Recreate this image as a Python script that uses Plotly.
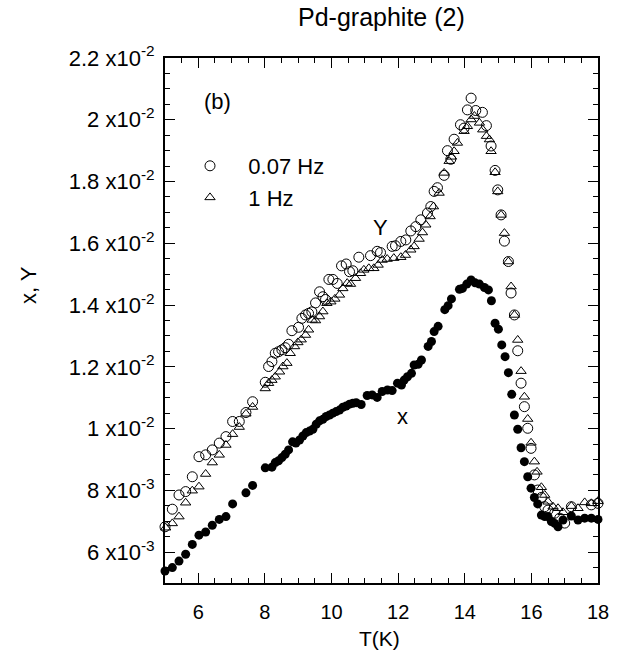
import plotly.graph_objects as go

# ---- data ----
x_T = [5.00, 5.22, 5.42, 5.62, 5.82, 6.02, 6.22, 6.42, 6.63, 6.83, 7.03, 7.43, 7.63,
       8.01, 8.21, 8.31, 8.41, 8.51, 8.61, 8.71, 8.83, 8.93, 9.04, 9.14, 9.24, 9.34,
       9.44, 9.54, 9.64, 9.74, 9.84, 9.94, 10.04, 10.14, 10.24, 10.34, 10.44, 10.54,
       10.64, 10.74, 10.89, 11.07, 11.22, 11.37, 11.52, 11.68, 11.82, 11.98, 12.10,
       12.18, 12.28, 12.40, 12.48, 12.60, 12.70, 12.90, 13.00, 13.08, 13.20, 13.40,
       13.50, 13.60, 13.84, 13.93, 14.06, 14.19, 14.31, 14.44, 14.59, 14.71, 14.80,
       14.91, 15.01, 15.11, 15.21, 15.31, 15.41, 15.49, 15.59, 15.69, 15.79, 15.89,
       15.99, 16.09, 16.19, 16.30, 16.40, 16.50, 16.60, 16.70, 16.80, 16.95, 17.20,
       17.40, 17.60, 17.80, 18.00]
x_val = [0.00539, 0.00550, 0.00571, 0.00593, 0.00625, 0.00655, 0.00665, 0.00687, 0.00706,
         0.00715, 0.00756, 0.00792, 0.00816, 0.00873, 0.00875, 0.00890, 0.00896, 0.00906,
         0.00917, 0.00931, 0.00957, 0.00953, 0.00963, 0.00976, 0.00987, 0.00992, 0.00998,
         0.01014, 0.01025, 0.01030, 0.01039, 0.01044, 0.01050, 0.01055, 0.01060, 0.01069,
         0.01073, 0.01079, 0.01082, 0.01084, 0.01078, 0.01107, 0.01109, 0.01101, 0.01120,
         0.01125, 0.01123, 0.01147, 0.01141, 0.01157, 0.01168, 0.01179, 0.01206, 0.01208,
         0.01222, 0.01266, 0.01282, 0.01314, 0.01331, 0.01385, 0.01398, 0.01420, 0.01451,
         0.01454, 0.01468, 0.01481, 0.01472, 0.01468, 0.01457, 0.01449, 0.01414, 0.01341,
         0.01322, 0.01271, 0.01233, 0.01181, 0.01111, 0.01044, 0.00998, 0.00938, 0.00893,
         0.00844, 0.00807, 0.00777, 0.00756, 0.00720, 0.00715, 0.00715, 0.00699, 0.00693,
         0.00682, 0.00704, 0.00717, 0.00704, 0.00710, 0.00710, 0.00706]

y007_T = [5.00, 5.22, 5.42, 5.62, 5.82, 6.02, 6.22, 6.42, 6.63, 6.83, 7.03, 7.23, 7.43,
          7.63, 8.01, 8.11, 8.21, 8.31, 8.41, 8.51, 8.61, 8.71, 8.81, 9.01, 9.11, 9.22,
          9.31, 9.41, 9.52, 9.64, 9.74, 9.82, 9.92, 10.04, 10.17, 10.30, 10.44, 10.54,
          10.64, 10.82, 11.17, 11.37, 11.47, 11.82, 11.92, 12.08, 12.23, 12.38, 12.53,
          12.68, 12.88, 12.98, 13.08, 13.18, 13.38, 13.48, 13.58, 13.68, 13.87, 13.98,
          14.08, 14.19, 14.33, 14.53, 14.65, 14.79, 14.91, 14.99, 15.09, 15.19, 15.31,
          15.39, 15.49, 15.59, 15.69, 15.79, 15.89, 15.99, 16.09, 16.19, 16.30, 16.40,
          16.50, 16.70, 16.85, 17.00, 17.20, 17.80, 18.00]
y007_val = [0.00682, 0.00739, 0.00785, 0.00796, 0.00844, 0.00909, 0.00915, 0.00931,
            0.00953, 0.00974, 0.01023, 0.01023, 0.01052, 0.01087, 0.01150, 0.01201,
            0.01217, 0.01244, 0.01249, 0.01255, 0.01262, 0.01273, 0.01317, 0.01328,
            0.01357, 0.01368, 0.01373, 0.01378, 0.01407, 0.01443, 0.01427, 0.01418,
            0.01483, 0.01483, 0.01470, 0.01527, 0.01533, 0.01508, 0.01511, 0.01555,
            0.01560, 0.01574, 0.01570, 0.01590, 0.01592, 0.01606, 0.01611, 0.01640,
            0.01654, 0.01676, 0.01698, 0.01719, 0.01768, 0.01780, 0.01820, 0.01900,
            0.01872, 0.01937, 0.01984, 0.01973, 0.02032, 0.02070, 0.02030, 0.02024,
            0.01981, 0.01915, 0.01836, 0.01773, 0.01692, 0.01607, 0.01541, 0.01439,
            0.01368, 0.01252, 0.01147, 0.01071, 0.01001, 0.00936, 0.00850, 0.00801,
            0.00777, 0.00747, 0.00736, 0.00726, 0.00710, 0.00694, 0.00747, 0.00753,
            0.00758]

y1_T = [5.02, 5.22, 5.42, 5.62, 5.82, 6.02, 6.22, 6.42, 6.63, 6.83, 7.03, 7.23, 7.43,
        7.63, 8.01, 8.11, 8.21, 8.31, 8.44, 8.54, 8.66, 8.76, 8.89, 8.99, 9.09, 9.22,
        9.31, 9.42, 9.52, 9.64, 9.74, 9.86, 9.98, 10.10, 10.24, 10.34, 10.47, 10.57,
        10.72, 10.87, 10.97, 11.12, 11.27, 11.40, 11.52, 11.67, 11.87, 12.08, 12.22,
        12.38, 12.48, 12.63, 12.73, 12.83, 12.96, 13.06, 13.23, 13.38, 13.53, 13.60,
        13.68, 13.78, 13.98, 14.08, 14.19, 14.29, 14.44, 14.54, 14.65, 14.74, 14.79,
        14.91, 14.99, 15.09, 15.19, 15.31, 15.39, 15.49, 15.59, 15.69, 15.79, 15.89,
        15.99, 16.09, 16.17, 16.30, 16.40, 16.50, 16.65, 16.80, 16.95, 17.20, 17.40,
        17.60, 17.80, 18.00]
y1_val = [0.00679, 0.00693, 0.00715, 0.00760, 0.00799, 0.00812, 0.00853, 0.00890,
          0.00915, 0.00947, 0.00982, 0.01005, 0.01048, 0.01070, 0.01130, 0.01147,
          0.01157, 0.01168, 0.01184, 0.01201, 0.01212, 0.01244, 0.01266, 0.01279,
          0.01288, 0.01303, 0.01320, 0.01352, 0.01350, 0.01363, 0.01379, 0.01406,
          0.01411, 0.01420, 0.01433, 0.01454, 0.01471, 0.01468, 0.01487, 0.01503,
          0.01514, 0.01519, 0.01519, 0.01530, 0.01546, 0.01549, 0.01552, 0.01555,
          0.01562, 0.01579, 0.01590, 0.01614, 0.01635, 0.01660, 0.01687, 0.01719,
          0.01763, 0.01828, 0.01866, 0.01880, 0.01898, 0.01925, 0.01963, 0.01979,
          0.02001, 0.02012, 0.01990, 0.01968, 0.01947, 0.01936, 0.01898, 0.01830,
          0.01768, 0.01692, 0.01633, 0.01541, 0.01460, 0.01368, 0.01287, 0.01186,
          0.01103, 0.01031, 0.00954, 0.00893, 0.00860, 0.00810, 0.00785, 0.00763,
          0.00747, 0.00742, 0.00729, 0.00749, 0.00742, 0.00761, 0.00758, 0.00765]

y_tickvals = [0.006, 0.008, 0.010, 0.012, 0.014, 0.016, 0.018, 0.020, 0.022]
y_ticktext = ["6 x10<sup>-3</sup>", "8 x10<sup>-3</sup>", "1 x10<sup>-2</sup>",
              "1.2 x10<sup>-2</sup>", "1.4 x10<sup>-2</sup>", "1.6 x10<sup>-2</sup>",
              "1.8 x10<sup>-2</sup>", "2 x10<sup>-2</sup>", "2.2 x10<sup>-2</sup>"]
x_tickvals = [6, 8, 10, 12, 14, 16, 18]

FONT = "Liberation Sans, Arial, Helvetica, sans-serif"
NB = "\u00a0"

# plot area in pixels (for placing annotations)
L, R, T, B = 165, 24, 58, 77
W, H = 622, 660
PW, PH = W - L - R, H - T - B


def px(xp):
    return (xp - L) / PW


def py(yp):
    return (H - B - yp) / PH


fig = go.Figure()
fig.add_trace(go.Scatter(
    x=x_T, y=x_val, mode="markers", name="x", showlegend=False,
    marker=dict(symbol="circle", size=9, color="black"), cliponaxis=False))
fig.add_trace(go.Scatter(
    x=y007_T, y=y007_val, mode="markers", name=NB * 3 + "0.07 Hz", legendgroup="a",
    marker=dict(symbol="circle-open", size=10, color="black", line=dict(width=1)),
    cliponaxis=False))
fig.add_trace(go.Scatter(
    x=y1_T, y=y1_val, mode="markers", name=NB * 3 + "1 Hz", legendgroup="b",
    marker=dict(symbol="triangle-up-open", size=9, color="black", line=dict(width=1)),
    cliponaxis=False))

axis_common = dict(
    showline=True, linecolor="black", linewidth=2, mirror="ticks",
    ticks="inside", ticklen=10, tickwidth=1, tickcolor="black",
    showgrid=False, zeroline=False,
)

fig.update_xaxes(
    range=[5, 18], tickvals=x_tickvals,
    tickfont=dict(family=FONT, size=20, color="black"), ticklabelstandoff=10,
    minor=dict(dtick=0.5, ticks="inside", ticklen=5, tickcolor="black", tickwidth=1,
               showgrid=False),
    **axis_common)
fig.update_yaxes(
    range=[0.005, 0.022], tickvals=y_tickvals, ticktext=y_ticktext,
    tickfont=dict(family=FONT, size=22, color="black"), ticklabelstandoff=4,
    minor=dict(dtick=0.0005, ticks="inside", ticklen=5, tickcolor="black", tickwidth=1,
               showgrid=False),
    **axis_common)

fig.update_layout(
    width=W, height=H,
    margin=dict(l=L, r=R, t=T, b=B),
    plot_bgcolor="white", paper_bgcolor="white",
    font=dict(family=FONT, size=20, color="black"),
    showlegend=True,
    legend=dict(x=px(190), y=py(145), xanchor="left", yanchor="top",
                bgcolor="rgba(0,0,0,0)", font=dict(family=FONT, size=22),
                traceorder="grouped", tracegroupgap=0),
    annotations=[
        dict(text="Pd-graphite (2)", x=px(381), y=py(17), xref="paper", yref="paper",
             showarrow=False, font=dict(size=25), xanchor="center", yanchor="middle"),
        dict(text="T(K)", x=px(379), y=py(638), xref="paper", yref="paper",
             showarrow=False, font=dict(size=21), xanchor="center", yanchor="middle"),
        dict(text="x, Y", x=px(28), y=py(285), xref="paper", yref="paper",
             showarrow=False, textangle=-90, font=dict(size=22),
             xanchor="center", yanchor="middle"),
        dict(text="(b)", x=px(217), y=py(102), xref="paper", yref="paper",
             showarrow=False, font=dict(size=22), xanchor="center", yanchor="middle"),
        dict(text="Y", x=px(380), y=py(228), xref="paper", yref="paper",
             showarrow=False, font=dict(size=22), xanchor="center", yanchor="middle"),
        dict(text="x", x=px(402), y=py(416), xref="paper", yref="paper",
             showarrow=False, font=dict(size=22), xanchor="center", yanchor="middle"),
    ],
)

fig.write_html("out.html")
